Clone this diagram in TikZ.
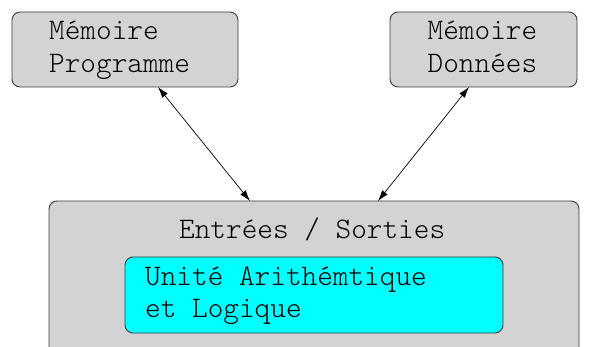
\documentclass[tikz,border=0pt]{standalone}
\usepackage{fontspec}
\setmonofont{Latin Modern Mono Light}
\usetikzlibrary{arrows.meta}
\definecolor{boxgray}{HTML}{D3D3D3}
\definecolor{edgegray}{HTML}{3C3C3C}
\definecolor{aqua}{HTML}{00FFFF}
\begin{document}
\begin{tikzpicture}[x=1pt,y=-1pt,
  graybox/.style={draw=edgegray,line width=0.9pt,fill=boxgray,rounded corners=8pt,inner sep=0pt,outer sep=0pt},
  cyanbox/.style={draw=edgegray,line width=0.9pt,fill=aqua,rounded corners=8pt,inner sep=0pt,outer sep=0pt},
  lbl/.style={anchor=base west,inner sep=0pt,font=\ttfamily\fontsize{29.8pt}{32pt}\selectfont},
  link/.style={{Latex[length=11pt,width=7pt]}-{Latex[length=11pt,width=7pt]},line width=0.7pt,black}]
\useasboundingbox (0,0) rectangle (605,347);
\clip (0,0) rectangle (605,347);
% boxes
\node[graybox,minimum width=226pt,minimum height=75pt] (mp) at (125,49.5) {};
\node[graybox,minimum width=187pt,minimum height=75pt] (md) at (483.5,49.5) {};
\node[graybox,minimum width=530pt,minimum height=170pt] (io) at (314,286) {};
\node[cyanbox,minimum width=378pt,minimum height=76pt] (ual) at (314,295) {};
% texts
\node[lbl] (t1) at (49,40) {Mémoire};
\node[lbl] (t2) at (49,73) {Programme};
\node[lbl] (t3) at (427.5,40) {Mémoire};
\node[lbl] (t4) at (427.5,73) {Données};
\node[lbl] (t5) at (179,239) {Entrées / Sorties};
\node[lbl] (t6) at (145,286) {Unité Arithémtique};
\node[lbl] (t7) at (145,318) {et Logique};
% connectors
\coordinate (a1) at (mp.south -| 158,0);
\coordinate (a2) at (io.north -| 250,0);
\coordinate (b1) at (md.south -| 469,0);
\coordinate (b2) at (io.north -| 378,0);
\draw[link] (a1) -- (a2);
\draw[link] (b1) -- (b2);
\end{tikzpicture}
\end{document}
